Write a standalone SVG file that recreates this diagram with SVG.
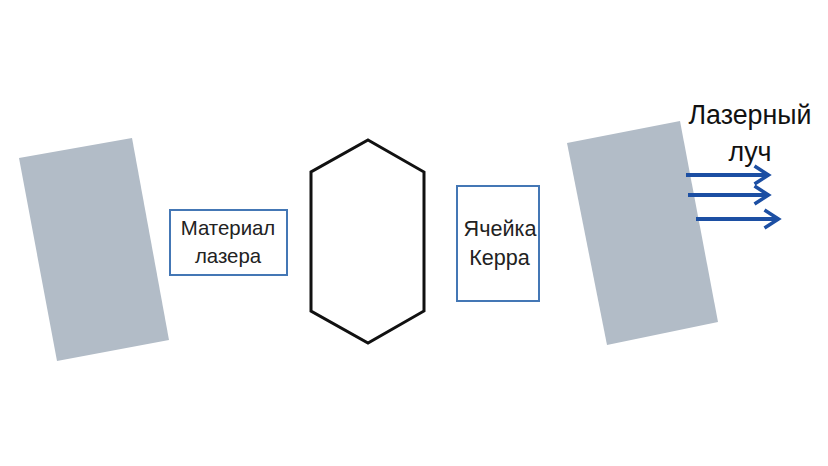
<svg xmlns="http://www.w3.org/2000/svg" width="828" height="466" viewBox="0 0 828 466">
<defs><marker id="a" markerUnits="userSpaceOnUse" markerWidth="20" markerHeight="24" refX="17" refY="12" orient="auto"><path d="M3 3L17 12L3 21" fill="none" stroke="#1c4fa3" stroke-width="3.5"/></marker></defs>
<style>.m{fill:#b2bcc7}.b{fill:#fff;stroke:#4477b5;stroke-width:2}.t{font-family:"Liberation Sans",sans-serif;font-size:20.4px;fill:#222;text-anchor:middle}.k{font-size:21.6px}.l{font-size:26.8px;fill:#111}.c{fill:none;stroke:#1c4fa3;stroke-width:4;marker-end:url(#a)}</style>
<rect width="828" height="466" fill="#fff"/>
<g id="mirror-left"><polygon class="m" points="19,158 132,138 169,340 57,361"/></g>
<g id="laser-material"><rect class="b" x="170" y="210" width="117" height="65"/><text class="t" x="228" y="235">Материал</text><text class="t" x="228" y="263">лазера</text></g>
<g id="lamp"><polygon points="368,140 424,172 424,311 368,343 311,311 311,172" fill="#fff" stroke="#111" stroke-width="3"/></g>
<g id="kerr-cell"><rect class="b" x="457" y="186" width="82" height="115"/><text class="t k" x="500" y="236">Ячейка</text><text class="t k" x="499.500" y="265">Керра</text></g>
<g id="mirror-right"><polygon class="m" points="567,143 680,121 718,322 607,345"/></g>
<g id="connectors"><path class="c" d="M686 175H768.500"/><path class="c" d="M688 195H768.500"/><path class="c" d="M696 219H778.500"/></g>
<g id="beam-label"><text class="t l" x="750" y="124">Лазерный</text><text class="t l" x="750" y="161">луч</text></g>
</svg>
